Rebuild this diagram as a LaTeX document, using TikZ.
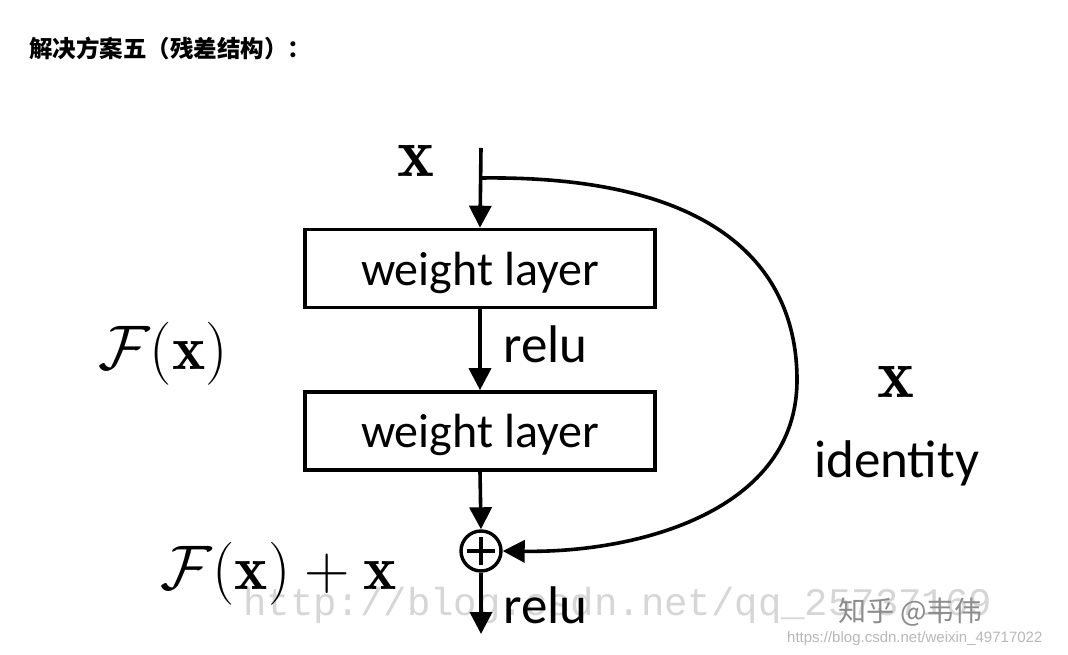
\RequirePackage{fix-cm}
\documentclass[tikz,border=0pt]{standalone}
\usepackage{fontspec}
\newfontfamily\cjk{Noto Sans CJK SC}
\newfontfamily\lblfont{Carlito}
\newfontfamily\wmmono{Liberation Mono}
\newfontfamily\wmsans{Liberation Sans}
\usetikzlibrary{arrows.meta}
\tikzset{
  conn/.style={line width=3.6pt, -{Triangle[length=22pt,width=22pt]}},
  layerbox/.style={draw, line width=3.6pt, minimum width=350pt, minimum height=78pt, inner sep=0pt, text depth=0pt, font=\lblfont\fontsize{48}{50}\selectfont},
  mathlbl/.style={inner sep=0pt, anchor=base, font=\fontsize{63}{66}\selectfont},
  sanslbl/.style={inner sep=0pt, anchor=base west, font=\lblfont\fontsize{53}{56}\selectfont},
}
\begin{document}
\begin{tikzpicture}[x=1pt,y=-1pt]
\useasboundingbox (0,0) rectangle (1068,655);
\fill[white] (0,0) rectangle (1068,655);
% watermarks
\node[inner sep=0pt, anchor=base west, text=black!16, font=\wmmono\fontsize{39}{40}\selectfont] (wm1) at (243,615) {http://blog.csdn.net/qq\_25737169};
\node[inner sep=0pt, anchor=base west, text=black!45, font=\cjk\fontsize{28}{30}\selectfont] (wm2) at (838,621) {知乎 @韦伟};
\node[inner sep=0pt, anchor=base west, text=black!28, font=\wmsans\fontsize{15}{16}\selectfont] (wm3) at (787,642) {https://blog.csdn.net/weixin\_49717022};
% title
\node[inner sep=0pt, anchor=west, font=\cjk\bfseries\fontsize{23.5}{26}\selectfont] (title) at (29,48) {解决方案五（残差结构）：};
% main nodes
\coordinate (top) at (481,148);
\coordinate (br) at (481,178);
\node[layerbox] (box1) at (480,268.5) {weight layer};
\node[layerbox] (box2) at (480,431) {weight layer};
\node[draw, circle, line width=3.4pt, minimum size=40pt, inner sep=0pt] (plus) at (481,551) {};
\draw[line width=3.4pt] ([yshift=-14pt]plus.center) -- ([yshift=14pt]plus.center);
\draw[line width=3.4pt] ([xshift=-14pt]plus.center) -- ([xshift=14pt]plus.center);
\coordinate (out) at (481,634);
% connectors
\draw[conn] (top) -- (box1.north);
\draw[conn] (box1.south) -- (box2.north);
\draw[conn] (box2.south) -- (plus.north);
\draw[conn] (plus.south) -- (out);
\draw[conn] (br) .. controls (720,175) and (797,270) .. (797,380) .. controls (797,510) and (640,553) .. (plus.east);
% labels
\node[mathlbl, font=\fontsize{70}{72}\selectfont] (xin) at (416,177) {$\mathbf{x}$};
\node[mathlbl] (fx) at (163,369) {$\mathcal{F}(\mathbf{x})$};
\node[mathlbl] (fxx) at (279,589) {$\mathcal{F}(\mathbf{x})+\mathbf{x}$};
\node[mathlbl, font=\fontsize{70}{72}\selectfont] (xid) at (896,397) {$\mathbf{x}$};
\node[sanslbl] (idl) at (814,477) {identity};
\node[sanslbl] (relu1) at (503,362) {relu};
\node[sanslbl] (relu2) at (503,623) {relu};
\end{tikzpicture}
\end{document}
